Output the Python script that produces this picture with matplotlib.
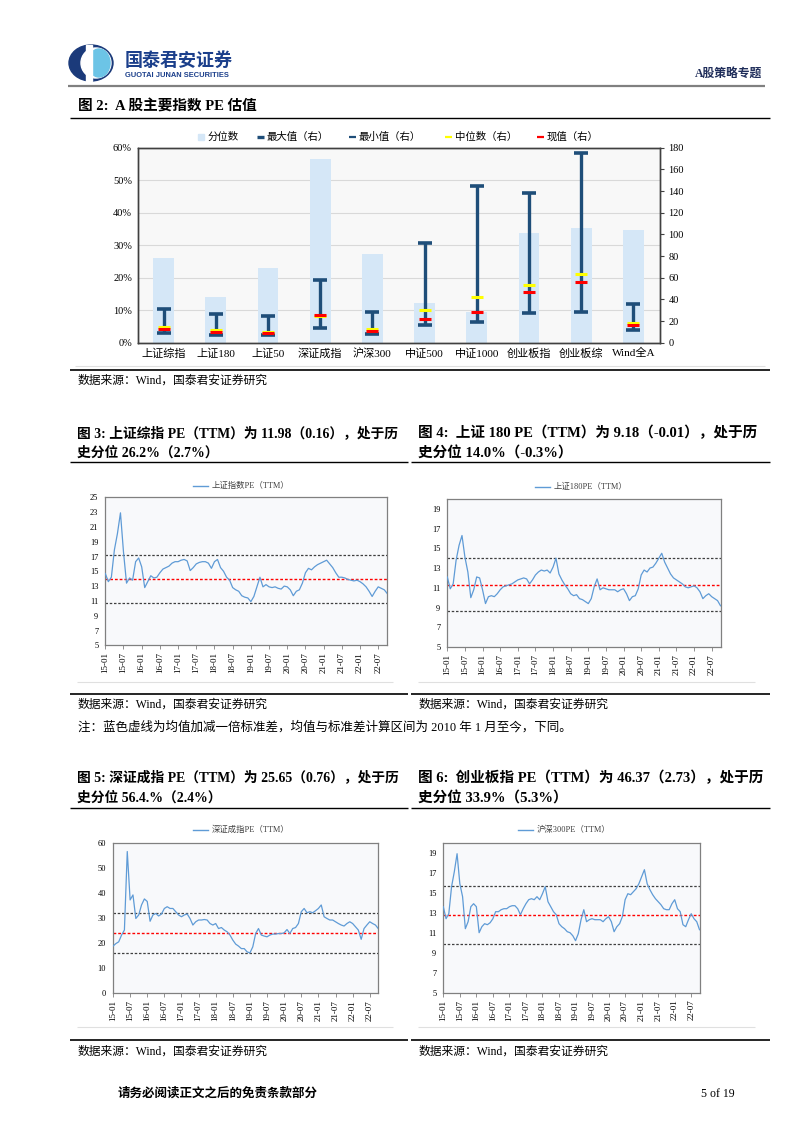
import numpy as np
import matplotlib.pyplot as plt
from matplotlib.patches import Ellipse, Rectangle

plt.rcParams['font.family'] = ['Liberation Serif', 'Noto Sans CJK SC', 'DejaVu Sans']
plt.rcParams['axes.unicode_minus'] = False

# ---------------- 数据 ----------------
# 图2：各指数PE估值
idx_names = ['上证综指', '上证180', '上证50', '深证成指', '沪深300',
             '中证500', '中证1000', '创业板指', '创业板综', 'Wind全A']
pct_rank = [0.262, 0.140, 0.229, 0.564, 0.272, 0.121, 0.095, 0.339, 0.352, 0.347]
pe_max = [31.4, 26.5, 24.3, 57.5, 28.6, 91.7, 145.0, 138.0, 175.0, 35.7]
pe_min = [8.9, 7.4, 7.1, 13.2, 8.3, 16.0, 19.4, 27.0, 28.0, 12.0]
pe_median = [14.2, 11.4, 10.2, 24.6, 12.3, 30.2, 42.0, 53.0, 63.0, 18.0]
pe_now = [12.3, 9.5, 8.9, 25.8, 11.1, 21.8, 28.6, 46.4, 55.7, 16.3]

# 月度PE(TTM)，2015-01 至 2022-10
month_ticks = ['15-01', '15-07', '16-01', '16-07', '17-01', '17-07', '18-01', '18-07',
               '19-01', '19-07', '20-01', '20-07', '21-01', '21-07', '22-01', '22-07']

sh_comp_pe = [14.7, 13.6, 14.2, 17.9, 20.1, 22.9, 17.6, 13.4, 14.1, 13.8, 16.3, 16.8,
              15.6, 12.8, 13.6, 14.4, 14.1, 14.2, 14.8, 15.3, 15.5, 15.7, 16.1, 16.3,
              16.3, 16.5, 16.6, 16.4, 15.1, 15.5, 16.0, 16.2, 16.3, 16.3, 16.1, 15.4,
              16.3, 16.6, 15.5, 15.0, 14.2, 13.8, 12.8, 12.5, 12.3, 11.7, 11.5, 11.4,
              10.9, 11.6, 12.9, 14.2, 12.9, 13.2, 12.9, 12.8, 12.9, 12.7, 12.6, 13.0,
              12.9, 12.5, 11.7, 12.3, 12.5, 13.4, 14.8, 15.4, 15.2, 15.6, 15.9, 16.1,
              16.3, 16.5, 16.0, 15.5, 14.8, 14.2, 14.2, 14.1, 13.9, 13.8, 13.7, 13.8,
              13.6, 13.3, 12.9, 12.3, 11.6, 12.3, 12.9, 12.7, 12.5, 11.98]
sh180_pe = [12.1, 10.9, 11.4, 13.8, 15.3, 16.3, 14.1, 12.6, 10.0, 10.8, 12.1, 12.0,
            10.8, 9.4, 10.1, 10.2, 10.1, 10.4, 10.8, 11.1, 11.2, 11.3, 11.4, 11.6,
            11.8, 11.9, 12.0, 11.9, 11.4, 11.8, 12.3, 12.6, 12.8, 12.7, 12.8, 12.5,
            13.1, 14.0, 12.4, 11.8, 11.3, 10.9, 10.4, 10.2, 10.3, 9.9, 9.8, 9.6,
            9.4, 9.9, 11.1, 11.9, 10.8, 11.0, 10.9, 10.8, 10.8, 10.8, 10.6, 10.8,
            10.9, 10.4, 9.7, 10.1, 10.2, 10.9, 12.3, 12.8, 12.6, 13.0, 13.1, 13.5,
            14.0, 14.5, 13.6, 13.0, 12.4, 12.0, 11.8, 11.6, 11.4, 11.1, 11.0, 11.1,
            11.2, 11.0, 10.6, 9.9, 10.2, 10.4, 10.1, 9.9, 9.7, 9.18]
szcz_pe = [18.7, 19.7, 20.4, 23.1, 25.1, 56.4, 37.1, 39.1, 29.7, 31.1, 35.1, 37.5,
           36.5, 28.6, 31.1, 31.7, 30.7, 31.5, 33.7, 34.4, 33.7, 33.7, 32.4, 31.1,
           30.4, 31.1, 31.5, 29.7, 27.1, 28.4, 29.1, 29.1, 29.3, 29.1, 27.7, 27.1,
           27.7, 25.7, 26.1, 25.1, 24.4, 23.1, 21.1, 19.5, 18.7, 17.7, 17.7, 16.4,
           16.0, 18.4, 23.7, 25.7, 23.1, 22.7, 22.4, 23.1, 23.5, 23.5, 23.7, 23.7,
           24.0, 25.3, 23.7, 25.7, 26.1, 27.7, 32.4, 33.7, 32.0, 32.4, 32.0, 32.8,
           33.7, 35.1, 30.4, 29.7, 29.1, 29.1, 28.4, 27.7, 27.1, 26.7, 27.7, 28.4,
           27.7, 26.4, 25.1, 21.4, 25.7, 27.1, 28.4, 27.7, 27.1, 25.65]
hs300_pe = [13.6, 12.4, 12.9, 15.6, 17.1, 18.9, 15.9, 14.6, 11.4, 12.1, 13.6, 13.9,
            13.6, 11.0, 11.6, 11.9, 11.8, 12.0, 12.4, 13.1, 13.1, 13.3, 13.4, 13.4,
            13.6, 13.7, 13.7, 13.4, 12.8, 13.4, 13.9, 14.3, 14.4, 14.3, 14.6, 14.3,
            14.9, 15.6, 14.1, 13.6, 13.1, 12.8, 11.9, 11.6, 11.4, 11.1, 11.0, 10.7,
            10.2, 10.9, 12.3, 13.3, 12.1, 12.3, 12.4, 12.3, 12.3, 12.3, 12.1, 12.4,
            12.6, 12.1, 11.1, 11.6, 11.9, 12.6, 14.3, 14.9, 14.8, 15.1, 15.4, 15.9,
            16.6, 17.3, 15.9, 15.3, 14.8, 14.4, 14.1, 13.8, 13.4, 13.3, 13.3, 13.9,
            14.3, 13.4, 13.1, 11.8, 11.6, 12.3, 12.9, 12.4, 12.1, 11.3]

# 均值-1倍标准差、均值、均值+1倍标准差
sh_comp_band = [10.7, 13.9, 17.2]
sh180_band = [8.6, 11.3, 14.0]
szcz_band = [16.0, 24.0, 32.0]
hs300_band = [9.9, 12.8, 15.7]

# ---------------- 画布 ----------------
W, H = 802, 1133
fig = plt.figure(figsize=(W / 100, H / 100), dpi=100)
page = fig.add_axes([0, 0, 1, 1])
page.set_xlim(0, W)
page.set_ylim(H, 0)
page.axis('off')

NAVY = '#1f4e79'
LINE = '#5f9bd6'
CJK_B = dict(fontweight='bold')


def px_axes(l, t, r, b):
    return fig.add_axes([l / W, 1 - b / H, (r - l) / W, (b - t) / H])


def hline(y, x0, x1, color='black', lw=1.0):
    page.plot([x0, x1], [y, y], color=color, lw=lw, solid_capstyle='butt')


# 页眉
page.add_patch(Ellipse((91, 63), 44, 36, color='#1b3a7a'))
page.add_patch(Ellipse((96, 63), 30, 30, color='white'))
page.add_patch(Ellipse((99, 63), 22, 28, color='#6cc4e6'))
page.add_patch(Rectangle((86, 45), 6, 36, color='white'))
page.text(125, 60, '国泰君安证券', fontsize=13, color='#1b3f8b', va='center',
          family=['Noto Sans CJK SC'], fontweight='bold')
page.text(125, 75.5, 'GUOTAI JUNAN SECURITIES', fontsize=5.4, color='#1b3f8b', va='center',
          family=['Liberation Sans'], fontweight='bold')
page.text(762, 74, 'A股策略专题', fontsize=8.5, color='#1f2d5a', va='center', ha='right', **CJK_B)
hline(86, 68, 765, color='#808080', lw=1.6)

# 图2 标题
page.text(78, 107, '图 2:  A 股主要指数 PE 估值', fontsize=10.5, va='center', **CJK_B)
hline(118, 70, 770)

# ---------------- 图2 柱状+区间 ----------------
ax = px_axes(137.5, 147.7, 659.5, 342.7)
ax.set_facecolor('#f8f8f8')
xs = np.arange(len(idx_names))
ax.bar(xs, pct_rank, width=0.4, color='#d5e7f7', zorder=2)
ax.set_xlim(-0.5, len(idx_names) - 0.5)
ax.set_ylim(0, 0.6)
ax.set_yticks(np.arange(0, 0.61, 0.1))
ax.set_yticklabels([f'{int(round(v * 100))}%' for v in np.arange(0, 0.61, 0.1)], fontsize=7.5)
ax.set_xticks(xs)
ax.set_xticklabels(idx_names, fontsize=8)
ax.grid(axis='y', color='#d9d9d9', lw=0.8)
ax.set_axisbelow(True)
ax.tick_params(axis='both', length=0, pad=4)
for s in ax.spines.values():
    s.set_color('#404040')
    s.set_linewidth(1.0)

ax2 = ax.twinx()
ax2.set_ylim(0, 180)
ax2.set_yticks(np.arange(0, 181, 20))
ax2.tick_params(axis='y', labelsize=7.5, length=3, color='#404040')
ax2.vlines(xs, pe_min, pe_max, color=NAVY, lw=2.4, zorder=3)
ax2.plot(xs, pe_max, ls='none', marker='_', ms=10, mew=2.6, color=NAVY, zorder=4)
ax2.plot(xs, pe_min, ls='none', marker='_', ms=10, mew=2.6, color=NAVY, zorder=4)
ax2.plot(xs, pe_median, ls='none', marker='_', ms=9, mew=2.2, color='#ffff00', zorder=5)
ax2.plot(xs, pe_now, ls='none', marker='_', ms=9, mew=2.2, color='#ff0000', zorder=6)
for s in ax2.spines.values():
    s.set_color('#404040')
    s.set_linewidth(1.0)

# 图2 图例
leg_y = 137
page.add_patch(Rectangle((198, leg_y - 3), 6, 6, color='#d5e7f7'))
page.text(208, leg_y, '分位数', fontsize=7.5, va='center')
for x0, label, col, lw in [(257, '最大值（右）', NAVY, 2.4), (349, '最小值（右）', NAVY, 1.6),
                          (445, '中位数（右）', '#ffff00', 1.6), (537, '现值（右）', '#ff0000', 1.6)]:
    page.plot([x0, x0 + 7], [leg_y, leg_y], color=col, lw=lw, solid_capstyle='butt')
    page.text(x0 + 10, leg_y, label, fontsize=7.5, va='center')

hline(366, 75, 765, color='#e0e0e0', lw=0.8)
hline(370, 70, 770, lw=1.2)
page.text(78, 381, '数据来源：Wind，国泰君安证券研究', fontsize=8.5, va='center')


# ---------------- 折线图 ----------------
def pe_chart(box, series, band, ylim, yticks, legend_label, leg_x, leg_y):
    a = px_axes(*box)
    a.set_facecolor('#f8f9fb')
    xm = np.arange(len(series))
    a.plot(xm, series, color=LINE, lw=0.9, zorder=3)
    dash = (0, (2, 1.4))
    a.axhline(band[0], color='#404040', lw=0.9, ls=dash, zorder=2)
    a.axhline(band[1], color='#ff0000', lw=1.0, ls=dash, zorder=2)
    a.axhline(band[2], color='#404040', lw=0.9, ls=dash, zorder=2)
    a.set_xlim(0, len(series) - 1)
    a.set_ylim(*ylim)
    a.set_yticks(yticks)
    a.set_yticklabels([str(v) for v in yticks], fontsize=6)
    a.set_xticks(np.arange(0, 6 * len(month_ticks), 6))
    a.set_xticklabels(month_ticks, rotation=90, fontsize=6.5)
    a.tick_params(axis='y', length=0, pad=5)
    a.tick_params(axis='x', length=3, width=0.6, color='#808080', pad=2)
    for s in a.spines.values():
        s.set_color('#808080')
        s.set_linewidth(0.9)
    page.plot([leg_x, leg_x + 15], [leg_y, leg_y], color=LINE, lw=1.0)
    page.text(leg_x + 19, leg_y, legend_label, fontsize=6, va='center', color='#404040')
    return a


def fig_block(x0, x1, title1, title2, t_y, line_y, size):
    page.text(x0 + 7, t_y, title1, fontsize=size, va='center', **CJK_B)
    page.text(x0 + 7, t_y + 20, title2, fontsize=size, va='center', **CJK_B)
    hline(line_y, x0, x1)


def source_block(x0, x1, faint_y, line_y, text_y):
    hline(faint_y, x0 + 7, x1 - 15, color='#e0e0e0', lw=0.8)
    hline(line_y, x0, x1, lw=1.2)
    page.text(x0 + 8, text_y, '数据来源：Wind，国泰君安证券研究', fontsize=8.5, va='center')


# 图3、图4
fig_block(70, 408, '图 3: 上证综指 PE（TTM）为 11.98（0.16），处于历',
          '史分位 26.2%（2.7%）', 433, 462, 9.9)
fig_block(411, 770, '图 4:  上证 180 PE（TTM）为 9.18（-0.01），处于历',
          '史分位 14.0%（-0.3%）', 433, 462, 10.5)
pe_chart((105.3, 497.3, 387.3, 645.3), sh_comp_pe, sh_comp_band, (5, 25), list(range(5, 26, 2)),
         '上证指数PE（TTM）', 193, 486)
pe_chart((447.3, 499, 720.5, 647), sh180_pe, sh180_band, (5, 20), list(range(5, 20, 2)),
         '上证180PE（TTM）', 535, 487)
source_block(70, 408, 682, 694, 705)
source_block(411, 770, 682, 694, 705)

page.text(78, 727, '注：蓝色虚线为均值加减一倍标准差，均值与标准差计算区间为 2010 年 1 月至今，下同。',
          fontsize=9, va='center')

# 图5、图6
fig_block(70, 408, '图 5: 深证成指 PE（TTM）为 25.65（0.76），处于历',
          '史分位 56.4.%（2.4%）', 778, 808, 9.9)
fig_block(411, 770, '图 6:  创业板指 PE（TTM）为 46.37（2.73），处于历',
          '史分位 33.9%（5.3%）', 778, 808, 10.5)
pe_chart((113, 842.5, 378.3, 993), szcz_pe, szcz_band, (0, 60), list(range(0, 61, 10)),
         '深证成指PE（TTM）', 193, 830)
pe_chart((443.3, 842.7, 699.5, 992.7), hs300_pe, hs300_band, (5, 20), list(range(5, 20, 2)),
         '沪深300PE（TTM）', 518, 830)
source_block(70, 408, 1027, 1040, 1052)
source_block(411, 770, 1027, 1040, 1052)

# 页脚
page.text(118, 1094, '请务必阅读正文之后的免责条款部分', fontsize=9, va='center', **CJK_B)
page.text(735, 1094, '5 of 19', fontsize=8.5, va='center', ha='right')

fig.savefig('out.png', dpi=100)
